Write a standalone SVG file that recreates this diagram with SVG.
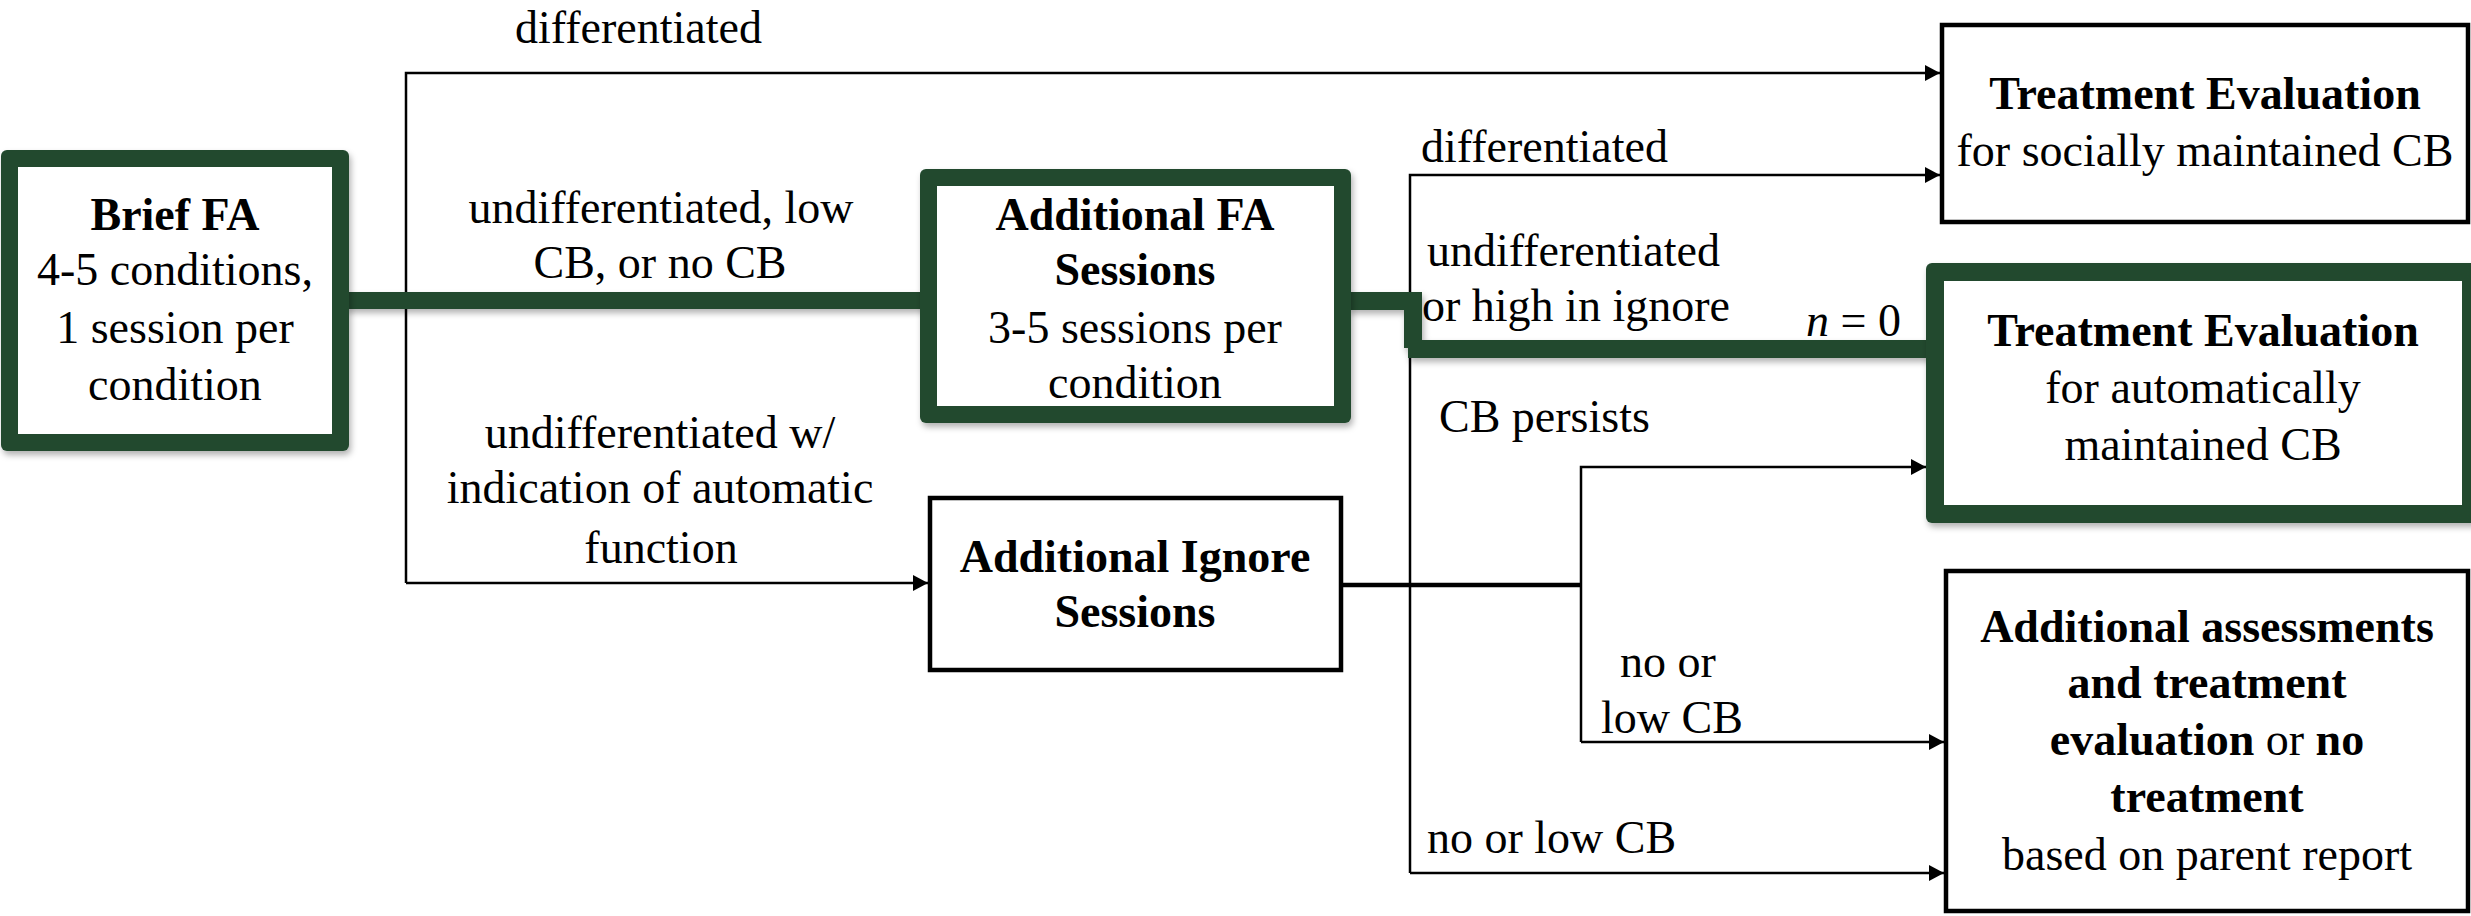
<svg xmlns="http://www.w3.org/2000/svg" width="2471" height="916" viewBox="0 0 2471 916" font-family="'Liberation Serif', 'DejaVu Serif', serif" font-size="46">
<defs>
<style>
text{font-family:'Liberation Serif','DejaVu Serif',serif;font-size:46px;fill:#000}
.b{font-weight:bold}
.c{text-anchor:middle}
.g{fill:#214a2e}
.w{fill:#fff}
.thin{stroke:#000;stroke-width:2.5;fill:none}
.thick{stroke:#000;stroke-width:4.5;fill:none}
.box{stroke:#000;stroke-width:4.5;fill:#fff}
</style>
<filter id="sh" x="-10%" y="-10%" width="120%" height="130%">
<feDropShadow dx="2" dy="4" stdDeviation="3" flood-color="#000" flood-opacity="0.3"/>
</filter>
<marker id="ar" markerUnits="userSpaceOnUse" markerWidth="16" markerHeight="16" refX="15" refY="8" orient="auto">
<path d="M0,0 L15,8 L0,16 Z" fill="#000"/>
</marker>
</defs>

<g id="connectors">
<path class="thin" d="M406,583 V73 H1940" marker-end="url(#ar)"/>
<path class="thin" d="M406,583 H928" marker-end="url(#ar)"/>
<path class="thin" d="M1410,873 V175 H1940" marker-end="url(#ar)"/>
<path class="thin" d="M1410,873 H1944" marker-end="url(#ar)"/>
<path class="thick" d="M1341,585 H1582"/>
<path class="thin" d="M1581,742 V467 H1926" marker-end="url(#ar)"/>
<path class="thin" d="M1581,742 H1944" marker-end="url(#ar)"/>
<g filter="url(#sh)">
<rect class="g" x="345" y="292" width="580" height="17"/>
<rect class="g" x="1348" y="292" width="74" height="18"/>
<rect class="g" x="1404" y="292" width="18" height="56"/>
<rect class="g" x="1408" y="340" width="530" height="18"/>
</g>
<text x="515" y="43">differentiated</text>
<text class="c" x="661" y="223">undifferentiated, low</text>
<text class="c" x="660" y="278">CB, or no CB</text>
<text class="c" x="660" y="448">undifferentiated w/</text>
<text class="c" x="660" y="503">indication of automatic</text>
<text class="c" x="661" y="563">function</text>
<text x="1421" y="162">differentiated</text>
<text x="1427" y="266">undifferentiated</text>
<text x="1422" y="321">or high in ignore</text>
<text x="1806" y="336"><tspan font-style="italic">n</tspan> = 0</text>
<text x="1439" y="432">CB persists</text>
<text x="1620" y="677">no or</text>
<text x="1601" y="733">low CB</text>
<text x="1427" y="853">no or low CB</text>
</g>

<g id="brief-fa">
<rect class="g" x="1" y="150" width="348" height="301" rx="6" filter="url(#sh)"/>
<rect class="w" x="18" y="167" width="314" height="267"/>
<text class="c b" x="175" y="230">Brief FA</text>
<text class="c" x="175" y="285">4-5 conditions,</text>
<text class="c" x="175" y="343">1 session per</text>
<text class="c" x="175" y="400">condition</text>
</g>

<g id="additional-fa">
<rect class="g" x="920" y="169" width="431" height="254" rx="6" filter="url(#sh)"/>
<rect class="w" x="937" y="186" width="397" height="220"/>
<text class="c b" x="1135" y="230">Additional FA</text>
<text class="c b" x="1135" y="285">Sessions</text>
<text class="c" x="1135" y="343">3-5 sessions per</text>
<text class="c" x="1135" y="398">condition</text>
</g>

<g id="additional-ignore">
<rect class="box" x="930" y="498" width="411" height="172"/>
<text class="c b" x="1135" y="572">Additional Ignore</text>
<text class="c b" x="1135" y="627">Sessions</text>
</g>

<g id="treatment-social">
<rect class="box" x="1942" y="25" width="526" height="197"/>
<text class="c b" x="2205" y="109">Treatment Evaluation</text>
<text class="c" x="2205" y="166">for socially maintained CB</text>
</g>

<g id="treatment-auto">
<rect class="g" x="1926" y="263" width="560" height="260" rx="6" filter="url(#sh)"/>
<rect class="w" x="1944" y="281" width="518" height="224"/>
<text class="c b" x="2203" y="346">Treatment Evaluation</text>
<text class="c" x="2203" y="403">for automatically</text>
<text class="c" x="2203" y="460">maintained CB</text>
</g>

<g id="additional-assessments">
<rect class="box" x="1946" y="571" width="522" height="340"/>
<text class="c b" x="2207" y="642">Additional assessments</text>
<text class="c b" x="2207" y="698">and treatment</text>
<text class="c" x="2207" y="755"><tspan class="b">evaluation</tspan> or <tspan class="b">no</tspan></text>
<text class="c b" x="2207" y="812">treatment</text>
<text class="c" x="2207" y="870">based on parent report</text>
</g>
</svg>
